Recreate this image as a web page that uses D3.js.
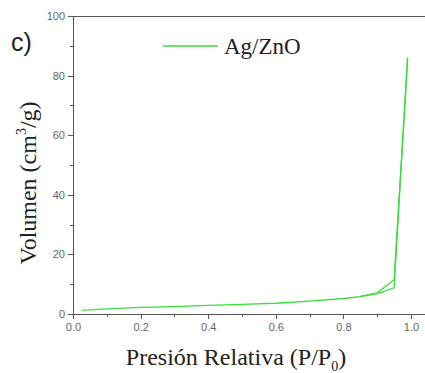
<!DOCTYPE html>
<html lang="es">
<head>
<meta charset="utf-8">
<title>Ag/ZnO isoterma</title>
<script src="https://cdn.jsdelivr.net/npm/d3@7"></script>
<style>
  body { margin: 0; background: #fff; }
  .axis path, .axis line { stroke: #555; shape-rendering: crispEdges; }
  .axis text { fill: #666; font: 11px "Liberation Sans", Arial, sans-serif; }
  .serif { font-family: "Liberation Serif", "Times New Roman", serif; fill: #222; }
</style>
</head>
<body>
<div id="chart"></div>
<script>
// adsorption branch (P/P0, volumen)
var adsX = [0.027, 0.1, 0.2, 0.3, 0.4, 0.5, 0.6, 0.7, 0.8, 0.85, 0.9, 0.95, 0.99];
var adsY = [1.2, 1.7, 2.2, 2.5, 2.9, 3.2, 3.6, 4.3, 5.2, 5.8, 6.8, 8.8, 86];
// desorption branch
var desX = [0.99, 0.95, 0.9, 0.85];
var desY = [86, 11.5, 7.1, 5.9];

var xMajor = [0, 0.2, 0.4, 0.6, 0.8, 1.0];
var xMinor = [0.1, 0.3, 0.5, 0.7, 0.9];
var yMajor = [0, 20, 40, 60, 80, 100];
var yMinor = [10, 30, 50, 70, 90];

var seriesName = "Ag/ZnO";
var lineColor = "#3ddc3d";

var width = 425, height = 373;
var margin = {top: 16, left: 73, bottom: 59};

var x = d3.scaleLinear().domain([0, 1]).range([margin.left, 411]);
var y = d3.scaleLinear().domain([0, 100]).range([height - margin.bottom, margin.top]);

var svg = d3.select("#chart").append("svg")
  .attr("width", width)
  .attr("height", height);

// frame top line
svg.append("line")
  .attr("x1", x(0)).attr("x2", x(1.05))
  .attr("y1", y(100)).attr("y2", y(100))
  .attr("stroke", "#555")
  .attr("shape-rendering", "crispEdges");

// x axis extended a bit past 1.0 (cropped in the original)
var xAxisScale = x.copy().domain([0, 1.05]).range([x(0), x(1.05)]);
svg.append("g")
  .attr("class", "axis")
  .attr("transform", "translate(0," + y(0) + ")")
  .call(d3.axisBottom(xAxisScale).tickValues(xMajor).tickSize(5).tickSizeOuter(0).tickPadding(4)
    .tickFormat(d3.format(".1f")));
svg.append("g")
  .attr("class", "axis")
  .attr("transform", "translate(0," + y(0) + ")")
  .call(d3.axisBottom(xAxisScale).tickValues(xMinor).tickSize(3).tickSizeOuter(0).tickFormat(""))
  .select(".domain").remove();

svg.append("g")
  .attr("class", "axis")
  .attr("transform", "translate(" + x(0) + ",0)")
  .call(d3.axisLeft(y).tickValues(yMajor).tickSize(5).tickSizeOuter(0).tickPadding(3));
svg.append("g")
  .attr("class", "axis")
  .attr("transform", "translate(" + x(0) + ",0)")
  .call(d3.axisLeft(y).tickValues(yMinor).tickSize(3).tickFormat(""))
  .select(".domain").remove();

// curves
var line = d3.line()
  .x(function(d) { return x(d[0]); })
  .y(function(d) { return y(d[1]); });

var ads = adsX.map(function(v, i) { return [v, adsY[i]]; });
var des = desX.map(function(v, i) { return [v, desY[i]]; });

[ads, des].forEach(function(s) {
  svg.append("path")
    .datum(s)
    .attr("fill", "none")
    .attr("stroke", lineColor)
    .attr("stroke-width", 1.3)
    .attr("d", line);
});

// legend
svg.append("line")
  .attr("x1", 163).attr("x2", 218)
  .attr("y1", 46).attr("y2", 46)
  .attr("stroke", lineColor)
  .attr("stroke-width", 1.3);
svg.append("text")
  .attr("class", "serif")
  .attr("x", 224).attr("y", 54)
  .style("font-size", "23px")
  .text(seriesName);

// panel label
svg.append("text")
  .attr("x", 11).attr("y", 51)
  .style("font", "25px 'Liberation Sans', Arial, sans-serif")
  .attr("fill", "#222")
  .text("c)");

// axis titles
var yt = svg.append("text")
  .attr("class", "serif")
  .attr("transform", "translate(36,183) rotate(-90)")
  .attr("text-anchor", "middle")
  .style("font-size", "24px");
yt.append("tspan").text("Volumen (cm");
yt.append("tspan").attr("dy", -10).style("font-size", "14px").text("3");
yt.append("tspan").attr("dy", 10).text("/g)");

var xt = svg.append("text")
  .attr("class", "serif")
  .attr("x", 236).attr("y", 365)
  .attr("text-anchor", "middle")
  .style("font-size", "24px");
xt.append("tspan").text("Presión Relativa (P/P");
xt.append("tspan").attr("dy", 6).style("font-size", "14px").text("0");
xt.append("tspan").attr("dy", -6).text(")");
</script>
</body>
</html>
